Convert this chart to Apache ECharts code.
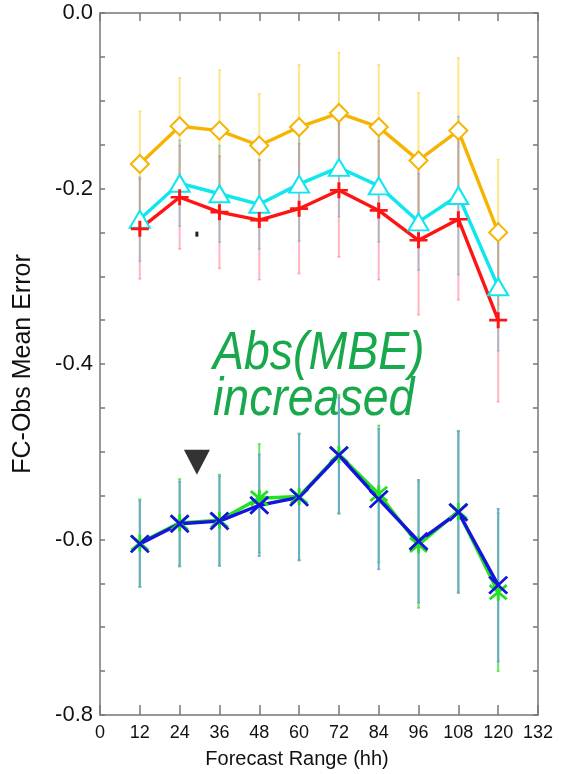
<!DOCTYPE html>
<html>
<head>
<meta charset="utf-8">
<script src="https://cdn.jsdelivr.net/npm/echarts@6/dist/echarts.min.js"></script>
<style>
  html, body { margin: 0; padding: 0; background: #fff; }
  #chart { width: 561px; height: 774px; }
</style>
</head>
<body>
<div id="chart"></div>
<script>
// forecast ranges (hh)
const hours = [12, 24, 36, 48, 60, 72, 84, 96, 108, 120];

const yellowVals = [-0.172, -0.129, -0.134, -0.151, -0.130, -0.114, -0.130, -0.168, -0.134, -0.250];
const cyanVals   = [-0.235, -0.194, -0.206, -0.218, -0.195, -0.176, -0.197, -0.238, -0.208, -0.312];
const redVals    = [-0.246, -0.210, -0.227, -0.236, -0.223, -0.202, -0.225, -0.259, -0.235, -0.350];
const greenVals  = [-0.604, -0.581, -0.578, -0.553, -0.551, -0.503, -0.548, -0.606, -0.568, -0.660];
const blueVals   = [-0.605, -0.582, -0.579, -0.561, -0.552, -0.504, -0.554, -0.602, -0.569, -0.652];

// error bar half widths
const yellowErr = [0.060, 0.055, 0.069, 0.059, 0.071, 0.069, 0.071, 0.077, 0.083, 0.083];
const cyanErr   = [0.048, 0.049, 0.055, 0.051, 0.065, 0.056, 0.064, 0.055, 0.090, 0.073];
const redErr    = [0.057, 0.059, 0.064, 0.068, 0.074, 0.076, 0.079, 0.085, 0.092, 0.093];
const greenErr  = [0.050, 0.050, 0.052, 0.062, 0.072, 0.068, 0.078, 0.072, 0.092, 0.090];
const blueErr   = [0.049, 0.048, 0.051, 0.058, 0.072, 0.066, 0.080, 0.070, 0.092, 0.087];

const xTicks = [0, 12, 24, 36, 48, 60, 72, 84, 96, 108, 120, 132];

const FONT = 'Liberation Sans, Arial, sans-serif';

const pts = vals => hours.map((h, i) => [h, vals[i]]);
const bars = (vals, err) => hours.map((h, i) => [h, vals[i] - err[i], vals[i] + err[i]]);

function errorSeries(vals, err, color, width) {
  return {
    type: 'custom',
    z: 1,
    silent: true,
    data: bars(vals, err),
    encode: { x: 0, y: [1, 2] },
    renderItem: (params, api) => {
      const lo = api.coord([api.value(0), api.value(1)]);
      const hi = api.coord([api.value(0), api.value(2)]);
      return {
        type: 'group',
        children: [
          { type: 'line', shape: { x1: lo[0], y1: lo[1], x2: hi[0], y2: hi[1] },
            style: { stroke: color, lineWidth: width } },
          { type: 'line', shape: { x1: lo[0] - 1.5, y1: lo[1], x2: lo[0] + 1.5, y2: lo[1] },
            style: { stroke: color, lineWidth: 1.5 } },
          { type: 'line', shape: { x1: hi[0] - 1.5, y1: hi[1], x2: hi[0] + 1.5, y2: hi[1] },
            style: { stroke: color, lineWidth: 1.5 } }
        ]
      };
    }
  };
}

function lineSeries(vals, color, symbol, size, extra) {
  return Object.assign({
    type: 'line',
    z: 3,
    data: pts(vals),
    symbol: symbol,
    symbolSize: size,
    showAllSymbol: true,
    lineStyle: { color: color, width: 3.4 },
    itemStyle: { color: color, borderColor: color, borderWidth: 2.8 }
  }, extra || {});
}

const PLUS = 'path://M0,10L20,10M10,0L10,20';
const CROSS = 'path://M0,0L20,20M20,0L0,20';
const STAR = 'path://M0,0L20,20M20,0L0,20M10,-2L10,22';

const chart = echarts.init(document.getElementById('chart'));

const yFmt = v => {
  const k = v / 0.2;
  if (Math.abs(k - Math.round(k)) > 1e-6) return '';
  return Math.abs(v) < 1e-9 ? '0.0' : v.toFixed(1);
};

chart.setOption({
  animation: false,
  backgroundColor: '#fff',
  grid: { left: 100, right: 23, top: 13, bottom: 55 },
  xAxis: [
    {
      type: 'value', min: 0, max: 132, interval: 12,
      name: 'Forecast Range (hh)', nameLocation: 'middle', nameGap: 34,
      nameTextStyle: { fontFamily: FONT, fontSize: 20, color: '#111', padding: [0, 44, 0, 0] },
      axisLine: { onZero: false, lineStyle: { color: '#777', width: 1.5 } },
      axisTick: { inside: true, length: 10, lineStyle: { color: '#777', width: 1.5 } },
      axisLabel: { fontFamily: FONT, fontSize: 18, color: '#111', margin: 9,
        formatter: v => xTicks.includes(v) ? String(v) : '' },
      splitLine: { show: false }
    },
    {
      type: 'value', position: 'top', min: 0, max: 132, interval: 12,
      axisLine: { onZero: false, lineStyle: { color: '#777', width: 1.5 } },
      axisTick: { inside: true, length: 8, lineStyle: { color: '#777', width: 1.5 } },
      axisLabel: { show: false },
      splitLine: { show: false }
    }
  ],
  yAxis: [
    {
      type: 'value', min: -0.8, max: 0, interval: 0.05,
      name: 'FC-Obs Mean Error', nameLocation: 'middle', nameGap: 64,
      nameTextStyle: { fontFamily: FONT, fontSize: 25, color: '#111' },
      axisLine: { onZero: false, lineStyle: { color: '#777', width: 1.5 } },
      axisTick: { inside: true, length: 5, lineStyle: { color: '#777', width: 1.5 } },
      axisLabel: { fontFamily: FONT, fontSize: 22, color: '#111', margin: 7, formatter: yFmt },
      splitLine: { show: false }
    },
    {
      type: 'value', position: 'right', min: -0.8, max: 0, interval: 0.05,
      axisLine: { onZero: false, lineStyle: { color: '#777', width: 1.5 } },
      axisTick: { inside: true, length: 5, lineStyle: { color: '#777', width: 1.5 } },
      axisLabel: { show: false },
      splitLine: { show: false }
    }
  ],
  graphic: [
    {
      type: 'text', x: 213, y: 327, scaleX: 0.86, z: 10,
      style: { text: 'Abs(MBE)', font: 'italic 54px ' + FONT, fill: '#19a84c' }
    },
    {
      type: 'text', x: 213, y: 373, scaleX: 0.86, z: 10,
      style: { text: 'increased', font: 'italic 54px ' + FONT, fill: '#19a84c' }
    }
  ],
  series: [
    errorSeries(yellowVals, yellowErr, 'rgba(255,205,40,0.55)', 2),
    errorSeries(redVals, redErr, 'rgba(255,110,130,0.5)', 2),
    errorSeries(cyanVals, cyanErr, 'rgba(90,170,190,0.45)', 2),
    errorSeries(greenVals, greenErr, 'rgba(70,220,60,0.8)', 2),
    errorSeries(blueVals, blueErr, 'rgba(110,165,205,0.95)', 2),
    lineSeries(yellowVals, '#f6b400', 'emptyDiamond', [18, 18]),
    lineSeries(cyanVals, '#10e6ee', 'emptyTriangle', [20, 17]),
    lineSeries(redVals, '#ff1414', PLUS, [18, 16]),
    lineSeries(greenVals, '#22e022', STAR, [17, 17]),
    lineSeries(blueVals, '#1414dc', CROSS, [18, 17], {
      markPoint: {
        silent: true,
        label: { show: false },
        data: [
          { coord: [29.2, -0.512], symbol: 'triangle', symbolRotate: 180, symbolSize: [26, 25],
            itemStyle: { color: '#333', borderWidth: 0 } },
          { coord: [29.2, -0.252], symbol: 'rect', symbolSize: [3, 5],
            itemStyle: { color: '#222', borderWidth: 0 } }
        ]
      }
    })
  ]
});
</script>
</body>
</html>
